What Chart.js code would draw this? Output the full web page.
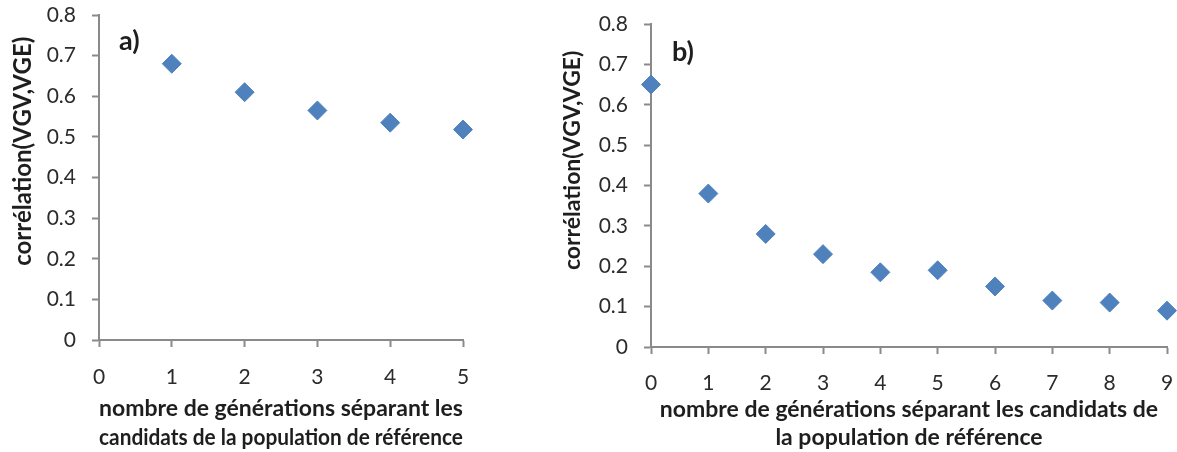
<!DOCTYPE html>
<html>
<head>
<meta charset="utf-8">
<script src="https://cdn.jsdelivr.net/npm/chart.js@4/dist/chart.umd.min.js"></script>
<style>
  html, body { margin: 0; padding: 0; background: #ffffff; }
  body { width: 1177px; height: 452px; position: relative; overflow: hidden; }
  .box { position: absolute; top: 0; }
</style>
</head>
<body>
<div class="box" style="left:0px"><canvas id="chartA" width="490" height="452"></canvas></div>
<div class="box" style="left:545px"><canvas id="chartB" width="632" height="452"></canvas></div>
<script>
// ---- data ----
const generationsA = [1, 2, 3, 4, 5];
const correlationA = [0.68, 0.61, 0.565, 0.535, 0.518];

const generationsB = [0, 1, 2, 3, 4, 5, 6, 7, 8, 9];
const correlationB = [0.65, 0.38, 0.28, 0.23, 0.185, 0.19, 0.15, 0.115, 0.11, 0.09];

const yTickLabels = ['0', '0.1', '0.2', '0.3', '0.4', '0.5', '0.6', '0.7', '0.8'];
const xTickLabelsA = ['0', '1', '2', '3', '4', '5'];
const xTickLabelsB = ['0', '1', '2', '3', '4', '5', '6', '7', '8', '9'];

const yTitle = 'corrélation(VGV,VGE)';
const xTitleA = ['nombre de générations séparant les', 'candidats de la population de référence'];
const xTitleB = ['nombre de générations séparant les candidats de', 'la population de référence'];
const panelA = 'a)';
const panelB = 'b)';

// ---- styling ----
const FONT = 'Lato, "Open Sans", "DejaVu Sans", sans-serif';
const AXIS = '#8a8a8a';
const MARK = '#4F81BD';

const panelLabel = {
  id: 'panelLabel',
  afterDraw(chart, args, opts) {
    const {ctx, chartArea} = chart;
    ctx.save();
    ctx.font = 'bold 27px ' + FONT;
    ctx.fillStyle = '#1e1e1e';
    ctx.textBaseline = 'middle';
    ctx.textAlign = 'left';
    ctx.fillText(opts.text, chartArea.left + opts.dx, chartArea.top + opts.dy);
    ctx.restore();
  }
};

function makeConfig(p) {
  return {
    type: 'scatter',
    data: {
      datasets: [{
        data: p.xs.map((x, i) => ({x: x, y: p.ys[i]})),
        pointStyle: 'rectRot',
        pointRadius: 9.5,
        pointHoverRadius: 9.5,
        backgroundColor: MARK,
        borderColor: MARK,
        borderWidth: 1,
        clip: false
      }]
    },
    options: {
      responsive: false,
      animation: false,
      events: [],
      layout: { autoPadding: false, padding: { top: p.top, right: p.right, bottom: 0, left: 0 } },
      plugins: {
        legend: { display: false },
        tooltip: { enabled: false },
        panelLabel: { text: p.label, dx: p.labelDx, dy: p.labelDy }
      },
      scales: {
        x: {
          type: 'linear',
          min: 0,
          max: p.xs[p.xs.length - 1],
          afterFit(scale) {
            scale.height = p.xAxisHeight;
            scale.paddingLeft = 0;
            scale.paddingRight = 0;
          },
          border: { display: true, color: AXIS, width: 2 },
          grid: { drawOnChartArea: false, drawTicks: true, tickLength: 7, tickColor: AXIS, tickWidth: 2 },
          ticks: {
            stepSize: 1,
            padding: p.xTickPad,
            color: '#2b2b2b',
            font: { family: FONT, size: 21 },
            maxRotation: 0,
            autoSkip: false,
            callback: (v, i) => p.xTicks[i]
          },
          title: {
            display: true,
            text: p.xTitle,
            color: '#1e1e1e',
            font: { family: FONT, size: 23, weight: 'bold', lineHeight: p.xTitleLH },
            padding: { top: 0, bottom: 0 }
          }
        },
        y: {
          min: 0,
          max: 0.8,
          afterFit(scale) {
            scale.width = p.yAxisWidth;
            scale.paddingTop = 0;
            scale.paddingBottom = 0;
          },
          border: { display: true, color: AXIS, width: 2 },
          grid: { drawOnChartArea: false, drawTicks: true, tickLength: 7, tickColor: AXIS, tickWidth: 2 },
          ticks: {
            stepSize: 0.1,
            padding: 16,
            color: '#2b2b2b',
            font: { family: FONT, size: 21 },
            autoSkip: false,
            callback: (v, i) => yTickLabels[i]
          },
          title: {
            display: true,
            text: p.yTitlePad + yTitle,
            color: '#1e1e1e',
            font: { family: FONT, size: p.yTitleSize, weight: 'bold' },
            padding: { top: p.yTitleOffset, bottom: 0 }
          }
        }
      }
    },
    plugins: [panelLabel]
  };
}

new Chart(document.getElementById('chartA'), makeConfig({
  xs: generationsA, ys: correlationA, xTicks: xTickLabelsA, xTitle: xTitleA,
  top: 15, right: 27, xAxisHeight: 112, yAxisWidth: 99,
  xTickPad: 18, xTitleLH: '29px',
  yTitleSize: 24, yTitleOffset: 9, yTitlePad: '         ',
  label: panelA, labelDx: 20, labelDy: 26
}));

new Chart(document.getElementById('chartB'), makeConfig({
  xs: generationsB, ys: correlationB, xTicks: xTickLabelsB, xTitle: xTitleB,
  top: 24, right: 10, xAxisHeight: 105, yAxisWidth: 106,
  xTickPad: 17, xTitleLH: '28px',
  yTitleSize: 23, yTitleOffset: 14, yTitlePad: '         ',
  label: panelB, labelDx: 21, labelDy: 28
}));
</script>
</body>
</html>
